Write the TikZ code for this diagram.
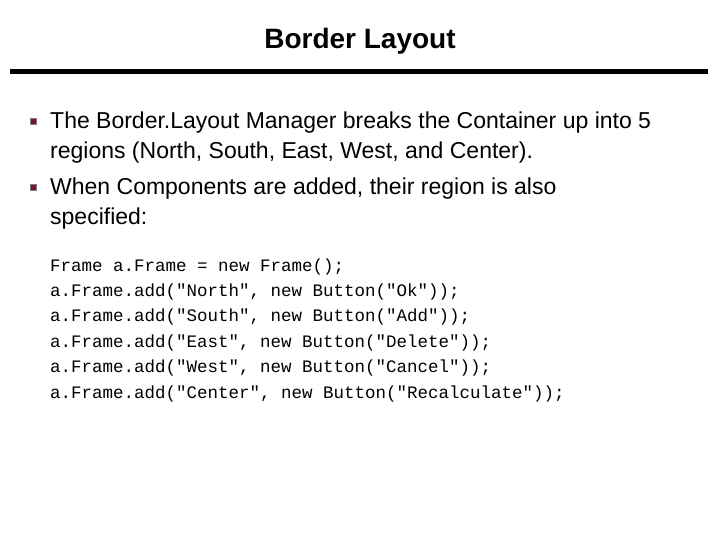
\documentclass[tikz,border=0pt]{standalone}
\usepackage{fontspec}
\setmainfont{Liberation Sans}
\setmonofont{Liberation Mono}
\definecolor{bulletred}{RGB}{120,20,40}
\tikzset{
  bodytext/.style={anchor=base west,inner sep=0pt,font=\fontsize{23}{27}\selectfont},
  codeline/.style={anchor=base west,inner sep=0pt,font=\ttfamily\fontsize{17.5}{20}\selectfont},
  bulletbox/.style={fill=bulletred,draw=gray,line width=0.4pt,minimum size=6pt,inner sep=0pt}
}
\begin{document}
\begin{tikzpicture}[x=1pt,y=-1pt]
\useasboundingbox (0,0) rectangle (720,540);
\node[inner sep=0pt,anchor=base,font=\bfseries\fontsize{28}{32}\selectfont] (title) at (360,49) {Border Layout};
\fill (10,69.5) rectangle (708,74.5);
% bullets
\node[bulletbox] (b1) at (33,121) {};
\node[bodytext] (t1) at (50,129) {The Border.Layout Manager breaks the Container up into 5};
\node[bodytext] (t1b) at (50,159) {regions (North, South, East, West, and Center).};
\node[bulletbox] (b2) at (33,187) {};
\node[bodytext] (t2) at (50,195) {When Components are added, their region is also};
\node[bodytext] (t2b) at (50,225) {specified:};
% code
\node[codeline] (c1) at (50,271) {Frame a.Frame = new Frame();};
\node[codeline] (c2) at (50,296.4) {a.Frame.add("North", new Button("Ok"));};
\node[codeline] (c3) at (50,321.8) {a.Frame.add("South", new Button("Add"));};
\node[codeline] (c4) at (50,347.2) {a.Frame.add("East", new Button("Delete"));};
\node[codeline] (c5) at (50,372.6) {a.Frame.add("West", new Button("Cancel"));};
\node[codeline] (c6) at (50,398) {a.Frame.add("Center", new Button("Recalculate"));};
\end{tikzpicture}
\end{document}
